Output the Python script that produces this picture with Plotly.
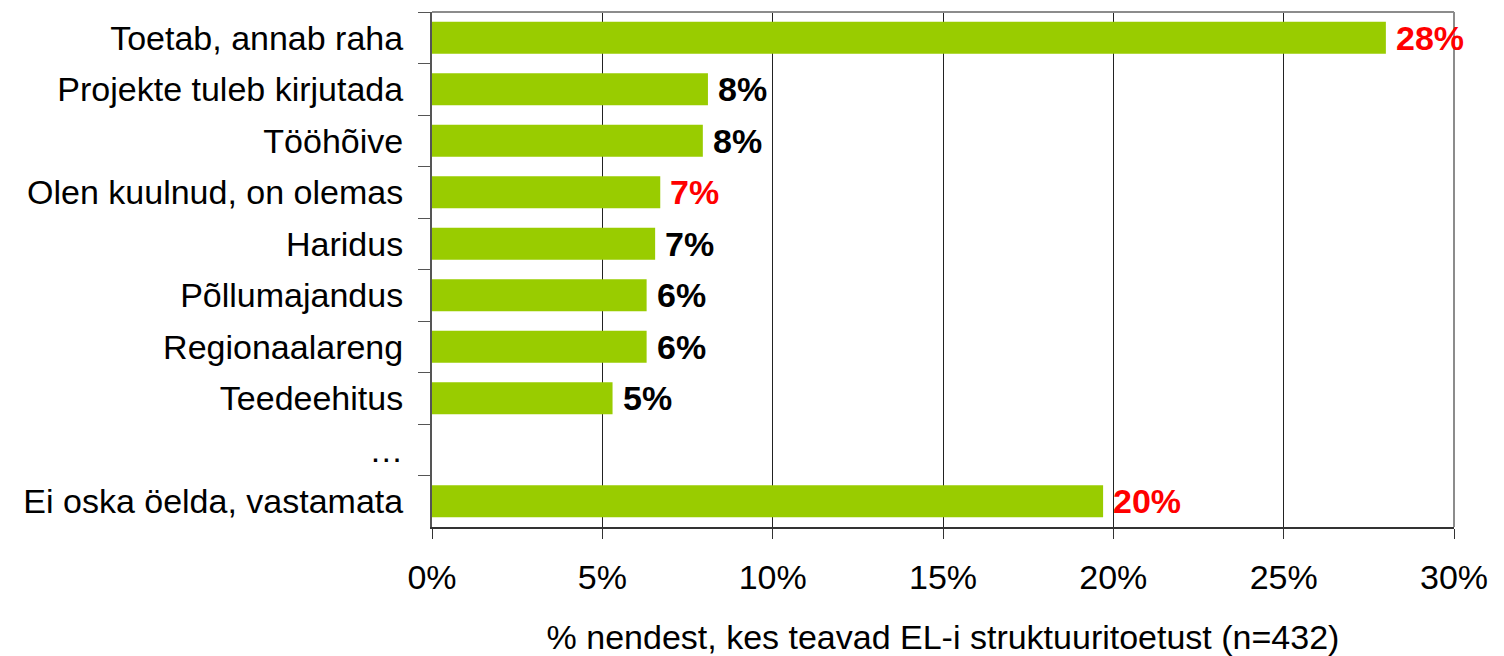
import plotly.graph_objects as go

categories = ["Toetab, annab raha", "Projekte tuleb kirjutada", "Tööhõive",
              "Olen kuulnud, on olemas", "Haridus", "Põllumajandus",
              "Regionaalareng", "Teedeehitus", "…", "Ei oska öelda, vastamata"]
values = [28.0, 8.1, 7.95, 6.7, 6.55, 6.3, 6.3, 5.3, None, 19.7]
labels = ["28%", "8%", "8%", "7%", "7%", "6%", "6%", "5%", "", "20%"]
label_colors = ["#FF0000", "#000000", "#000000", "#FF0000", "#000000",
                "#000000", "#000000", "#000000", "#000000", "#FF0000"]
x_ticks = [0, 5, 10, 15, 20, 25, 30]
x_ticklabels = ["0%", "5%", "10%", "15%", "20%", "25%", "30%"]

FONT = "Liberation Sans, Arial, sans-serif"

fig = go.Figure()
fig.add_trace(go.Bar(
    x=values, y=categories, orientation="h",
    marker=dict(color="#99CC00", line=dict(width=0)),
    showlegend=False, hoverinfo="skip",
))

for c, v, t, col in zip(categories, values, labels, label_colors):
    if v is None:
        continue
    fig.add_annotation(x=v, y=c, text="<b>%s</b>" % t, showarrow=False,
                       xanchor="left", yanchor="middle", xshift=8,
                       font=dict(family=FONT, size=34, color=col))

# top and right frame lines (gray)
fig.add_shape(type="line", xref="x domain", yref="y domain", x0=0, x1=1, y0=1, y1=1,
              line=dict(color="#8C8C8C", width=2))
fig.add_shape(type="line", xref="x domain", yref="y domain", x0=1, x1=1, y0=0, y1=1,
              line=dict(color="#8C8C8C", width=2))

fig.update_layout(
    width=1504, height=656,
    margin=dict(l=424, r=58, t=4, b=137),
    paper_bgcolor="white", plot_bgcolor="white",
    bargap=0.38,
    font=dict(family=FONT, size=34, color="#000000"),
    xaxis=dict(range=[0, 30], tickvals=x_ticks, ticktext=x_ticklabels,
               showgrid=True, gridcolor="#222222", gridwidth=1,
               showline=True, linecolor="#333333", linewidth=2,
               ticks="outside", ticklen=10, tickcolor="#333333", tickwidth=1,
               ticklabelstandoff=9, zeroline=False, automargin=False,
               title=dict(text="% nendest, kes teavad EL-i struktuuritoetust (n=432)",
                          font=dict(size=34), standoff=30)),
    yaxis=dict(autorange="reversed", type="category", automargin=False,
               showline=True, linecolor="#555555", linewidth=2,
               ticks="outside", ticklen=12, tickcolor="#555555", tickwidth=1,
               tickson="boundaries", ticklabelstandoff=20, showgrid=False),
)

fig.write_html("out.html")
